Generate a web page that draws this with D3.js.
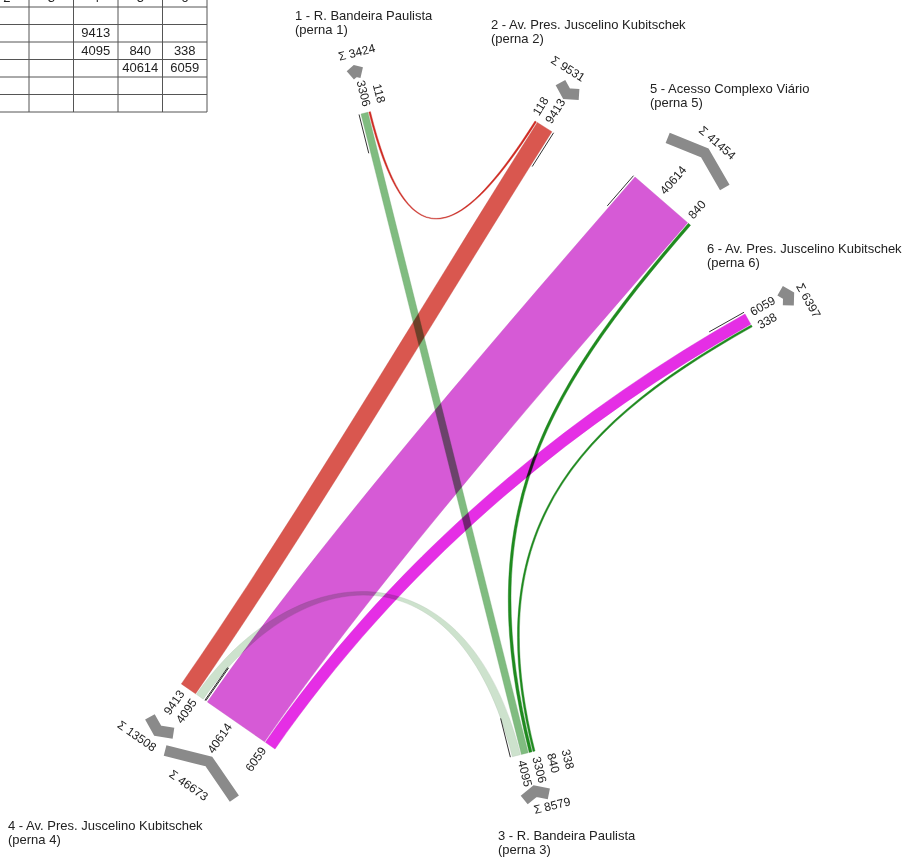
<!DOCTYPE html>
<html><head><meta charset="utf-8">
<script src="https://cdn.jsdelivr.net/npm/d3@7"></script>
<style>
html,body{margin:0;padding:0;background:#fff;}
svg{display:block;font-family:"Liberation Sans",Arial,sans-serif;}
</style></head><body>
<svg id="chart" width="909" height="864"></svg>
<script>
// ---------------- DATA ----------------
const legIds = [1, 2, 3, 4, 5, 6];
const legNames = ["1 - R. Bandeira Paulista", "2 - Av. Pres. Juscelino Kubitschek", "3 - R. Bandeira Paulista",
                  "4 - Av. Pres. Juscelino Kubitschek", "5 - Acesso Complexo Viário", "6 - Av. Pres. Juscelino Kubitschek"];
const legSubtitles = ["(perna 1)", "(perna 2)", "(perna 3)", "(perna 4)", "(perna 5)", "(perna 6)"];
const flowFrom   = [1, 1, 4, 4, 5, 6, 5, 6];
const flowTo     = [2, 3, 2, 3, 3, 3, 4, 4];
const flowVolume = [118, 3306, 9413, 4095, 840, 338, 40614, 6059];

// ---------------- LAYOUT / STYLE ----------------
const flowColor = ["#d42a22", "#80bc80", "#d9574f", "#cde2cd", "#1f8c1f", "#1f8c1f", "#d65ad6", "#e52ee5"];
const flowCurve = [[150,150],[220,220],[200,200],[170,220],[230,240],[200,230],[200,200],[216,216]];
const layout = {
  1: {p:[361,114], d:[0.243,0.970],  title:[295,20],  groups:[{type:"out", flows:[1,0], chev:{oA:40,oV:43,cL:0},  sum:{o:61,l:6}}]},
  2: {p:[535,121], d:[-0.535,0.845], title:[491,29],  groups:[{type:"in",  flows:[0,2], chev:{oA:46,oV:40,cL:2},  sum:{o:62,l:-10}}]},
  3: {p:[535,751], d:[-0.243,-0.970],title:[498,840], groups:[{type:"in",  flows:[5,4,1,3], chev:{oA:45,oV:39,cL:-2}, sum:{o:57,l:-15}}]},
  4: {p:[275,749], d:[0.57,-0.82],   title:[8,830],   groups:[{type:"in",  flows:[7,6], chev:{oA:64,oV:48,cL:6},  sum:{o:79,l:9}},
                                                            {type:"out", flows:[3,2], chev:{oA:45,oV:52,cL:6},  sum:{o:68,l:20}}]},
  5: {p:[635,177], d:[-0.657,0.757], title:[650,93],  groups:[{type:"out", flows:[6,4], chev:{oA:51,oV:64,cL:0},  sum:{o:80,l:3}}]},
  6: {p:[745,314], d:[-0.87,0.49],   title:[707,253], groups:[{type:"out", flows:[7,5], chev:{oA:42,oV:47,cL:-2}, sum:{o:62,l:12}}]}
};
const FLOW_GAP = 1, GROUP_GAP = 5, LABEL_GAP = 6, LABEL_SPACING = 15;

const width = d3.scaleLinear().domain([0, d3.max(flowVolume)]).range([1.5, 69.7]);

const svg = d3.select("#chart");
svg.append("rect").attr("width", 909).attr("height", 864).attr("fill", "#fff");

// ---------------- TABLE (rows: destination, cols: origin) ----------------
const colX = d3.scaleLinear().domain([0, 1]).range([-104.5, -60]);
const rowY = d3.scaleLinear().domain([0, 1]).range([-10.5, 7]);
const tbl = svg.append("g").attr("font-size", 13).attr("fill", "#222");
const nCols = legIds.length + 1, nRows = legIds.length + 1;
for (let i = 0; i <= nCols; i++)
  tbl.append("line").attr("x1", colX(i)).attr("x2", colX(i)).attr("y1", rowY(0)).attr("y2", rowY(nRows))
     .attr("stroke", "#555").attr("stroke-width", 1);
for (let j = 0; j <= nRows; j++)
  tbl.append("line").attr("x1", colX(0)).attr("x2", colX(nCols)).attr("y1", rowY(j)).attr("y2", rowY(j))
     .attr("stroke", "#555").attr("stroke-width", 1);
const cellText = (c, r, s) => tbl.append("text").attr("x", (colX(c) + colX(c + 1)) / 2).attr("y", rowY(r) + 12.5)
     .attr("text-anchor", "middle").text(s);
legIds.forEach((id, i) => { cellText(i + 1, 0, id); cellText(0, i + 1, id); });
flowVolume.forEach((v, i) => cellText(legIds.indexOf(flowFrom[i]) + 1, legIds.indexOf(flowTo[i]) + 1, v));

// ---------------- GEOMETRY ----------------
const frames = {};
legIds.forEach(id => {
  const L = layout[id]; const n = Math.hypot(L.d[0], L.d[1]);
  const d = [L.d[0] / n, L.d[1] / n];
  frames[id] = {p: L.p, d: d, t: [d[1], -d[0]]};
});
const pt = (F, lat, out) => [F.p[0] + lat * F.t[0] - out * F.d[0], F.p[1] + lat * F.t[1] - out * F.d[1]];
const ang = v => Math.atan2(v[1], v[0]) * 180 / Math.PI;

const seg = {}; const groupSpans = [];
legIds.forEach(id => {
  seg[id] = {}; let off = 0;
  layout[id].groups.forEach(g => {
    const start = off;
    g.flows.forEach(fi => { const w = width(flowVolume[fi]); seg[id][fi] = [off, off + w]; off += w + FLOW_GAP; });
    const end = off - FLOW_GAP;
    groupSpans.push({leg: id, g: g, start: start, end: end});
    off = end + GROUP_GAP;
  });
});

// ---------------- BANDS ----------------
const bands = svg.append("g");
const drawOrder = [6, 7, 2, 1, 3, 4, 5, 0];
drawOrder.forEach(i => {
  const A = frames[flowFrom[i]], B = frames[flowTo[i]];
  const [a0, a1] = seg[flowFrom[i]][i], [b0, b1] = seg[flowTo[i]][i];
  const [kA, kB] = flowCurve[i];
  const pA0 = pt(A, a0, 0), pA1 = pt(A, a1, 0), pB0 = pt(B, b0, 0), pB1 = pt(B, b1, 0);
  const p = d3.path();
  p.moveTo(...pA0);
  p.bezierCurveTo(pA0[0] + kA * A.d[0], pA0[1] + kA * A.d[1], pB1[0] + kB * B.d[0], pB1[1] + kB * B.d[1], pB1[0], pB1[1]);
  p.lineTo(...pB0);
  p.bezierCurveTo(pB0[0] + kB * B.d[0], pB0[1] + kB * B.d[1], pA1[0] + kA * A.d[0], pA1[1] + kA * A.d[1], pA1[0], pA1[1]);
  p.closePath();
  bands.append("path").attr("d", p.toString()).attr("fill", flowColor[i])
    .attr("stroke", d3.color(flowColor[i]).darker(0.3)).attr("stroke-width", 0.4)
    .style("mix-blend-mode", "multiply");
});

// ---------------- LEG DECORATIONS ----------------
const deco = svg.append("g");
groupSpans.forEach(gs => {
  const F = frames[gs.leg], g = gs.g;
  // thin direction line
  const lat = g.type === "out" ? gs.start - 2 : gs.end + 2;
  const l0 = pt(F, lat, 0), l1 = pt(F, lat, -40);
  deco.append("line").attr("x1", l0[0]).attr("y1", l0[1]).attr("x2", l1[0]).attr("y2", l1[1])
      .attr("stroke", "#333").attr("stroke-width", 1);
  // chevron
  const c = (gs.start + gs.end) / 2 + g.chev.cL, hw = (gs.end - gs.start) / 2 + 1;
  const chev = [pt(F, c - hw, g.chev.oA), pt(F, c, g.chev.oV), pt(F, c + hw, g.chev.oA)];
  deco.append("path").attr("d", d3.line()(chev)).attr("fill", "none").attr("stroke", "#8a8a8a")
      .attr("stroke-width", 11).attr("stroke-linejoin", "miter").attr("stroke-miterlimit", 10);
  // sum label
  const sum = d3.sum(g.flows, fi => flowVolume[fi]);
  const sp = pt(F, (gs.start + gs.end) / 2 + g.sum.l, g.sum.o);
  let a = ang(F.t); if (a > 90) a -= 180; if (a < -90) a += 180;
  deco.append("text").attr("transform", `translate(${sp[0]},${sp[1]}) rotate(${a})`)
      .attr("text-anchor", "middle").attr("dy", "0.35em").attr("font-size", 12).attr("fill", "#222")
      .text("Σ " + sum);
});

// flow labels per leg (leftmost label stays, the others are pushed apart)
legIds.forEach(id => {
  const F = frames[id];
  const items = [];
  layout[id].groups.forEach(g => g.flows.forEach(fi => items.push({fi: fi, nat: (seg[id][fi][0] + seg[id][fi][1]) / 2})));
  const dir = F.t[0] >= 0 ? 1 : -1;
  items.sort((a, b) => dir * (a.nat - b.nat));
  items.forEach((it, k) => {
    it.pos = k === 0 ? it.nat : (dir > 0 ? Math.max(it.nat, items[k - 1].pos + LABEL_SPACING)
                                         : Math.min(it.nat, items[k - 1].pos - LABEL_SPACING));
  });
  const outDir = [-F.d[0], -F.d[1]];
  let a = ang(outDir), anchor = "start";
  if (a > 90 || a < -90) { a = ang(F.d); anchor = "end"; }
  items.forEach(it => {
    const p = pt(F, it.pos, LABEL_GAP);
    deco.append("text").attr("transform", `translate(${p[0]},${p[1]}) rotate(${a})`)
        .attr("text-anchor", anchor).attr("font-size", 12).attr("fill", "#222")
        .text(flowVolume[it.fi]);
  });
  // titles
  const [tx, ty] = layout[id].title;
  const tg = deco.append("text").attr("font-size", 13).attr("fill", "#222");
  tg.append("tspan").attr("x", tx).attr("y", ty).text(legNames[id - 1]);
  tg.append("tspan").attr("x", tx).attr("y", ty + 14).text(legSubtitles[id - 1]);
});
</script>
</body></html>
